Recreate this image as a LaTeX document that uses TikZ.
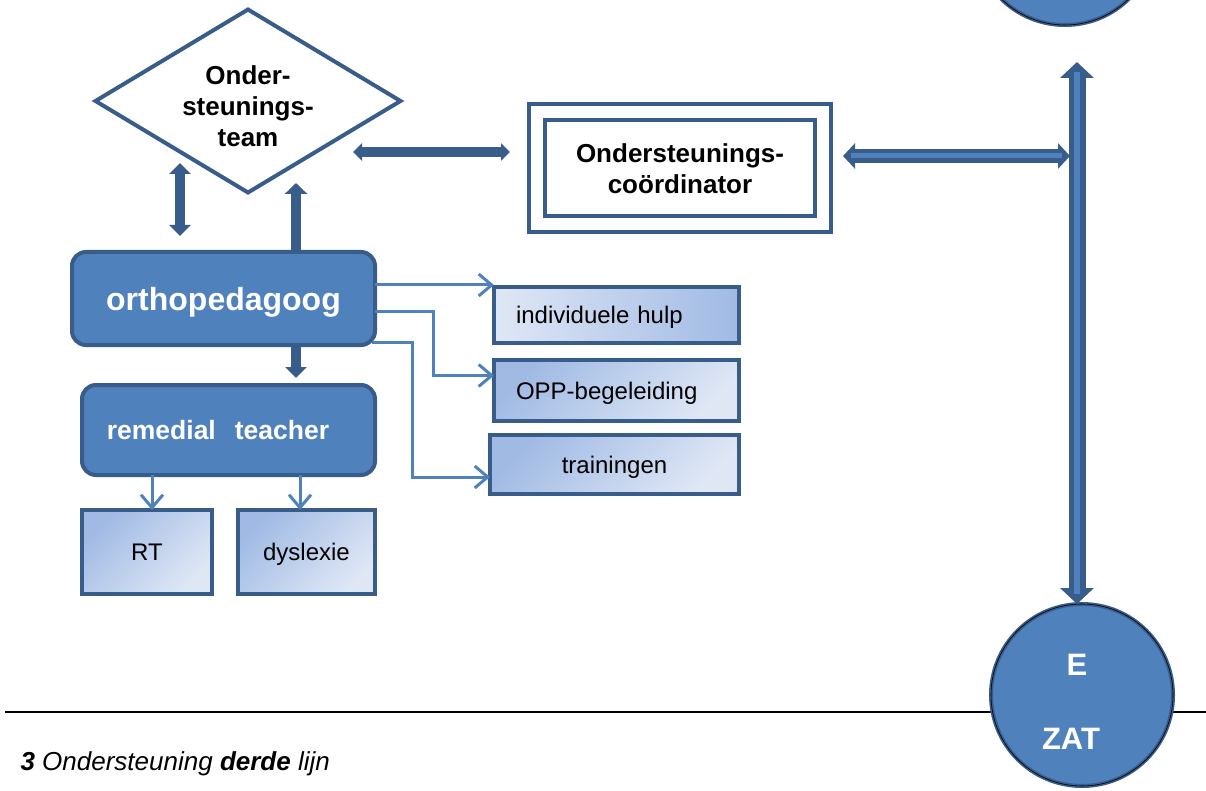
\documentclass[tikz,border=0pt]{standalone}
\usepackage{fontspec}
\setmainfont{Liberation Sans}
\usetikzlibrary{shapes.geometric,arrows.meta,positioning}
\definecolor{darkblue}{HTML}{385D8A}
\definecolor{midblue}{HTML}{4F81BD}
\definecolor{gradblue}{HTML}{A0BAE4}
\definecolor{paleblue}{HTML}{DFE7F5}
\tikzset{
  boxline/.style={draw=darkblue,line width=4pt,inner sep=0pt,outer sep=0pt},
  bluebox/.style={boxline,fill=midblue,rounded corners=14pt,text=white,font=\bfseries\fontsize{26}{31}\selectfont},
  palebox/.style={boxline,text depth=0pt,font=\fontsize{24}{28}\selectfont,top color=gradblue,bottom color=paleblue,shading angle=45},
  fatline/.style={draw=darkblue,line width=10pt},
  thinline/.style={draw=midblue,line width=3pt,-{Straight Barb[width=22pt,length=13pt]}},
  bigarrow/.style={draw=darkblue,line width=14pt},
  bigcore/.style={draw=midblue,line width=5pt},
  ball/.style={circle,boxline,fill=midblue,minimum size=182pt,postaction={draw=black,line width=0.6pt},text=white,font=\bfseries\fontsize{31}{74}\selectfont,align=center}
}
\begin{document}
\begin{tikzpicture}[x=1pt,y=-1pt]
\useasboundingbox (0,0) rectangle (1206,791);
\node[diamond,boxline,aspect=1.67,minimum width=305pt,minimum height=183pt,align=center,font=\bfseries\fontsize{26}{31}\selectfont] (team) at (248,101) {\rule{0pt}{29pt}Onder-\\steunings-\\team};
\node[boxline,double=white,double distance=12pt,minimum width=286pt,minimum height=112pt,align=center,font=\bfseries\fontsize{26}{31}\selectfont] (coord) at (680,168.5) {Ondersteunings-\\coördinator};
\node[bluebox,minimum width=303pt,minimum height=93pt,text depth=0pt,font=\bfseries\fontsize{32}{38}\selectfont] (op) at (223.5,298.5) {orthopedagoog};
\node[bluebox,minimum width=293pt,minimum height=90pt,font=\bfseries\fontsize{26.5}{31}\selectfont] (rem) at (228.5,430) {remedial\hspace{19pt}teacher\hspace{21pt}\mbox{}};
\node[palebox,minimum width=130pt,minimum height=84pt] (rt) at (147,552) {RT};
\node[palebox,minimum width=137pt,minimum height=84pt] (dys) at (306.5,552) {dyslexie};
\node[palebox,left color=paleblue,right color=gradblue,minimum width=245pt,minimum height=56pt,text width=201pt,inner xsep=22pt,align=left] (hulp) at (616.5,315) {individuele hulp};
\node[palebox,minimum width=245pt,minimum height=61pt,text width=201pt,inner xsep=22pt,align=left] (opp) at (616.5,390.5) {OPP-begeleiding};
\node[palebox,minimum width=249pt,minimum height=59pt] (train) at (614.5,464.5) {trainingen};
\draw[line width=2pt] (5,712) -- (1206,712);
\node[ball] (top) at (1065,-66) {};
\node[ball] (zat) at (1082,695) {\rule{0pt}{35pt}E\hspace{10pt}\mbox{}\\ZAT\hspace{22pt}\mbox{}};
\node[anchor=base west,font=\itshape\fontsize{26}{30}\selectfont] (caption) at (17,770) {\textbf{3} Ondersteuning \textbf{derde} lijn};
\draw[fatline,{Triangle[width=17pt,length=9pt]}-{Triangle[width=17pt,length=9pt]}] ([shift={(-47.5,51)}]team.east) -- ([shift={(-27,-16.5)}]coord.west);
\draw[fatline,{Triangle[width=21pt,length=11pt]}-{Triangle[width=21pt,length=11pt]}] ([shift={(-43.5,-16)}]op.north) -- ([shift={(-68,-29.5)}]team.south);
\draw[fatline,-{Triangle[width=22pt,length=11pt]}] ([shift={(72.5,0)}]op.north) -- ([shift={(48,-9.5)}]team.south);
\draw[fatline,-{Triangle[width=21pt,length=11pt]}] ([shift={(72.5,0)}]op.south) -- ([shift={(67.5,-7)}]rem.north);
\draw[thinline] ([shift={(0,-13.5)}]op.east) -- ([shift={(0,-13.5)}]op.east -| hulp.west);
\draw[thinline] ([shift={(0,12.5)}]op.east) -| ([shift={(-61,-15)}]opp.west) -- ([shift={(0,-15)}]opp.west);
\draw[thinline] ([shift={(-3,44)}]op.east) -| ([shift={(-78,12.5)}]train.west) -- ([shift={(0,12.5)}]train.west);
\draw[thinline] ([shift={(-76.5,0)}]rem.south) -- ([shift={(-76.5,0)}]rem.south |- rt.north);
\draw[thinline] ([shift={(71.5,0)}]rem.south) -- ([shift={(71.5,0)}]rem.south |- dys.north);
\coordinate (junction) at (1070,156);
\draw[bigarrow,line width=17pt,{Triangle[width=33pt,length=16pt]}-{Triangle[width=33pt,length=16pt]}] ([shift={(12,37)}]top.south) -- ([shift={(-5,0)}]zat.north);
\draw[bigcore,line width=6pt,shorten <=10pt,shorten >=10pt] ([shift={(12,37)}]top.south) -- ([shift={(-5,0)}]zat.north);
\draw[bigarrow,{Triangle[width=25pt,length=12pt]}-{Triangle[width=25pt,length=12pt]}] ([shift={(20,-12.5)}]coord.east) -- (junction);
\draw[bigcore,shorten <=8pt,shorten >=8pt] ([shift={(20,-12.5)}]coord.east) -- (junction);
\end{tikzpicture}
\end{document}
